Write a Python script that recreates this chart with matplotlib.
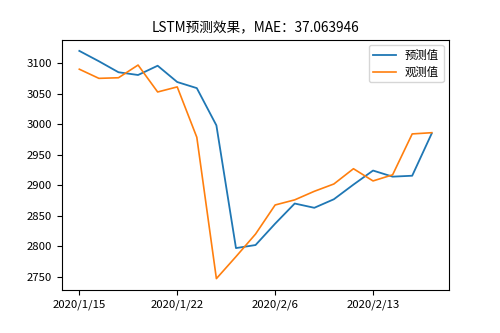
import matplotlib
matplotlib.use("Agg")
import matplotlib.pyplot as plt

plt.rcParams['font.family'] = ['Noto Sans CJK SC', 'DejaVu Sans']
plt.rcParams['axes.unicode_minus'] = False
plt.rcParams['font.size'] = 8.2

dates = ["2020/1/15", "2020/1/16", "2020/1/17", "2020/1/20", "2020/1/21",
         "2020/1/22", "2020/1/23", "2020/2/3", "2020/2/4", "2020/2/5",
         "2020/2/6", "2020/2/7", "2020/2/10", "2020/2/11", "2020/2/12",
         "2020/2/13", "2020/2/14", "2020/2/17", "2020/2/18"]
predicted = [3120, 3103, 3085, 3080.5, 3095.7, 3069, 3059, 2998, 2797, 2802,
             2837, 2870, 2863, 2877, 2901, 2924, 2914, 2915.5, 2985]
observed = [3090, 3075, 3076, 3096.8, 3052.7, 3061, 2978.5, 2747, 2783, 2820,
            2867.6, 2876, 2890, 2902, 2927, 2907, 2917, 2984, 2986]
tick_labels = dates[::5]
title = "LSTM预测效果，MAE：37.063946"

fig = plt.figure(figsize=(5, 3.33), dpi=100)
ax = fig.add_axes([61.7 / 500, 43 / 333, 387.7 / 500, 250.5 / 333])
ax.plot(dates, predicted, color="#1f77b4", lw=1.3, label="预测值")
ax.plot(dates, observed, color="#ff7f0e", lw=1.2, label="观测值")
ax.set_xticks(tick_labels)
ax.set_title(title, pad=5)
ax.legend(loc="upper right")
fig.savefig("out.png", dpi=100)
